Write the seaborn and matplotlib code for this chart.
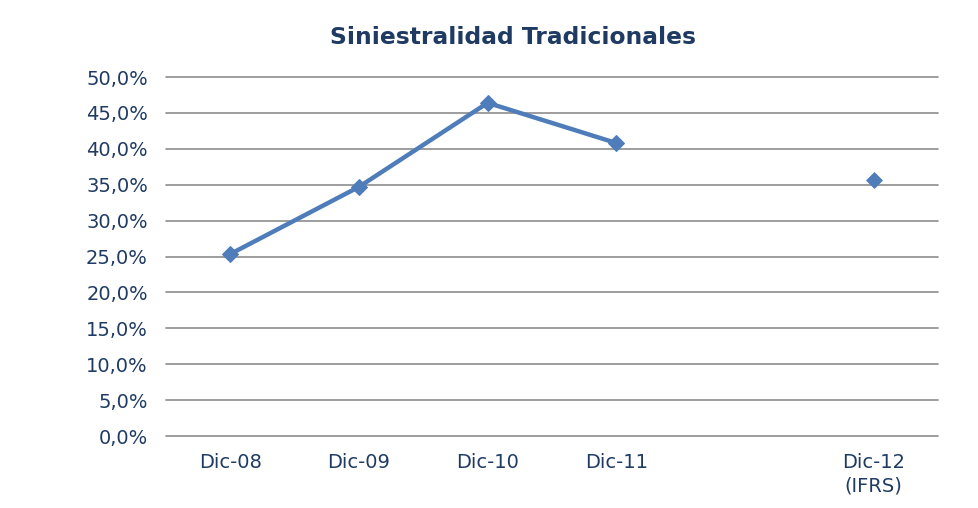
import numpy as np
import pandas as pd
import matplotlib
matplotlib.use("Agg")
import matplotlib.pyplot as plt
import seaborn as sns

# datos
categorias = ["Dic-08", "Dic-09", "Dic-10", "Dic-11", "", "Dic-12\n(IFRS)"]
siniestralidad = [0.2535, 0.347, 0.464, 0.408, np.nan, 0.3565]
yticks = [0.0, 0.05, 0.10, 0.15, 0.20, 0.25, 0.30, 0.35, 0.40, 0.45, 0.50]

azul = "#4F7DBA"
texto = "#1F3B63"

df = pd.DataFrame({"pos": np.arange(len(categorias)), "valor": siniestralidad})

sns.set_style("white")
plt.rcParams["font.family"] = ["DejaVu Sans"]

fig = plt.figure(figsize=(9.79, 5.08), dpi=100)
ax = fig.add_axes([166 / 979, 1 - 436 / 508, (938 - 166) / 979, (436 - 77) / 508])

# tramo continuo Dic-08 .. Dic-11
sns.lineplot(data=df.iloc[:4], x="pos", y="valor", ax=ax, color=azul,
             linewidth=3.2, marker="D", markersize=8, markeredgecolor=azul)
# punto aislado Dic-12
sns.scatterplot(data=df.iloc[5:], x="pos", y="valor", ax=ax, color=azul,
                marker="D", s=64, edgecolor=azul)

ax.set_xlim(-0.5, len(categorias) - 0.5)
ax.set_ylim(0, 0.5)
ax.set_yticks(yticks)
ax.set_yticklabels([f"{v * 100:.1f}%".replace(".", ",") for v in yticks])
ax.set_xticks(df["pos"])
ax.set_xticklabels(categorias, linespacing=1.35)
ax.grid(axis="y", color="#8C8C8C", linewidth=1.2)
for gl in ax.get_ygridlines():
    gl.set_clip_on(False)
ax.set_axisbelow(True)
for s in ax.spines.values():
    s.set_visible(False)
ax.tick_params(axis="both", length=0, labelsize=14, labelcolor=texto)
ax.tick_params(axis="y", pad=13)
ax.tick_params(axis="x", pad=12)
ax.set_xlabel("")
ax.set_ylabel("")

fig.text(513 / 979, 1 - 38 / 508, "Siniestralidad Tradicionales", ha="center",
         va="center", fontsize=16.8, fontweight="bold", color=texto)

fig.savefig("out.png", dpi=100)
